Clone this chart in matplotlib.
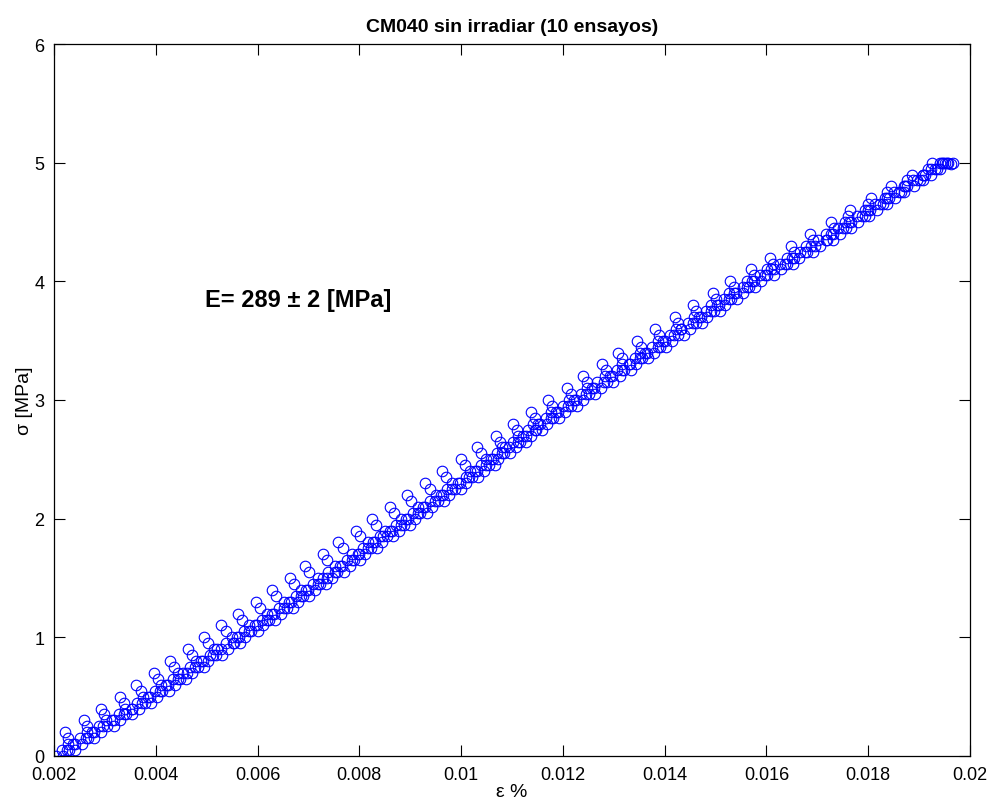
import numpy as np
import matplotlib.pyplot as plt

plt.rcParams['font.family'] = ['Liberation Sans', 'DejaVu Sans']

# stress grids [MPa] shared by the tests (each test uses the tail of one grid)
sig_a = [0.0, 0.1, 0.2, 0.3, 0.4, 0.5, 0.6, 0.7, 0.8, 0.9,
         1.0, 1.1, 1.2, 1.3, 1.4, 1.5, 1.6, 1.7, 1.8, 1.9,
         2.0, 2.1, 2.2, 2.3, 2.4, 2.5, 2.6, 2.7, 2.8, 2.9,
         3.0, 3.1, 3.2, 3.3, 3.4, 3.5, 3.6, 3.7, 3.8, 3.9,
         4.0, 4.1, 4.2, 4.3, 4.4, 4.5, 4.6, 4.7, 4.8, 4.9, 5.0]
sig_b = [0.05, 0.15, 0.25, 0.35, 0.45, 0.55, 0.65, 0.75, 0.85, 0.95,
         1.05, 1.15, 1.25, 1.35, 1.45, 1.55, 1.65, 1.75, 1.85, 1.95,
         2.05, 2.15, 2.25, 2.35, 2.45, 2.55, 2.65, 2.75, 2.85, 2.95,
         3.05, 3.15, 3.25, 3.35, 3.45, 3.55, 3.65, 3.75, 3.85, 3.95,
         4.05, 4.15, 4.25, 4.35, 4.45, 4.55, 4.65, 4.75, 4.85, 4.95]

# strain of every test, in units of 1e-5
# upper group (2 tests)
e1 = [221, 258, 292, 330, 361, 396, 428, 463, 494, 529, 561, 596, 628, 663, 694, 728, 759, 793, 824, 861,
      893, 930, 962, 999, 1032, 1069, 1101, 1138, 1171, 1208, 1240, 1277, 1309, 1346, 1381, 1420, 1455, 1494, 1529, 1570,
      1607, 1648, 1685, 1726, 1764, 1806, 1844, 1886, 1926]
e2 = [228, 265, 299, 337, 370, 405, 436, 471, 503, 538, 569, 605, 636, 671, 702, 737, 768, 802, 833, 868,
      901, 938, 970, 1007, 1040, 1076, 1109, 1146, 1179, 1215, 1248, 1284, 1317, 1354, 1388, 1427, 1462, 1501, 1536, 1576,
      1613, 1654, 1691, 1732, 1760, 1799, 1836, 1877, 1918]
# lower group (8 tests)
e3 = [238, 275, 313, 353, 385, 420, 454, 489, 521, 559, 594, 629, 662, 696, 729, 762, 798, 827, 860, 892,
      926, 960, 993, 1027, 1058, 1087, 1121, 1152, 1187, 1222, 1257, 1292, 1330, 1362, 1397, 1432, 1467, 1502, 1537, 1572,
      1608, 1650, 1688, 1727, 1763, 1800, 1836, 1872, 1907, 1942]
e4 = [215, 252, 288, 327, 363, 398, 433, 468, 506, 538, 573, 608, 642, 675, 708, 739, 775, 807, 840, 872,
      905, 939, 973, 1009, 1039, 1070, 1101, 1132, 1166, 1201, 1236, 1268, 1306, 1341, 1376, 1411, 1446, 1481, 1516, 1554,
      1587, 1626, 1665, 1701, 1741, 1778, 1814, 1851, 1888, 1924]
e5 = [204, 242, 279, 317, 354, 389, 424, 461, 493, 528, 563, 598, 633, 666, 700, 736, 766, 799, 831, 864,
      896, 930, 964, 997, 1031, 1062, 1094, 1128, 1156, 1191, 1226, 1261, 1296, 1331, 1366, 1401, 1433, 1471, 1506, 1541,
      1576, 1615, 1654, 1695, 1731, 1767, 1804, 1840, 1876, 1911, 1946]
e6 = [230, 267, 305, 342, 378, 413, 448, 483, 518, 553, 588, 623, 657, 690, 723, 757, 790, 822, 855, 887,
      920, 954, 988, 1021, 1054, 1085, 1116, 1147, 1181, 1216, 1251, 1286, 1321, 1356, 1391, 1426, 1461, 1496, 1531, 1566,
      1602, 1641, 1680, 1719, 1756, 1793, 1829, 1865, 1901, 1936]
e7 = [217, 255, 292, 330, 367, 402, 437, 471, 503, 541, 576, 611, 646, 679, 713, 746, 782, 812, 844, 877,
      909, 943, 977, 1010, 1044, 1072, 1107, 1138, 1169, 1204, 1239, 1274, 1312, 1344, 1379, 1414, 1449, 1484, 1519, 1554,
      1589, 1628, 1664, 1705, 1744, 1780, 1817, 1853, 1889, 1924, 1955]
e8 = [242, 279, 317, 354, 390, 425, 460, 495, 530, 565, 600, 635, 669, 702, 735, 769, 802, 834, 867, 899,
      932, 966, 1000, 1033, 1066, 1097, 1128, 1159, 1193, 1228, 1263, 1298, 1333, 1368, 1403, 1438, 1473, 1508, 1543, 1578,
      1614, 1653, 1692, 1731, 1766, 1802, 1836, 1871, 1907, 1942]
e9 = [190, 228, 265, 303, 340, 375, 410, 444, 479, 514, 549, 584, 619, 652, 686, 719, 752, 785, 817, 850,
      882, 916, 950, 983, 1017, 1048, 1080, 1111, 1142, 1177, 1212, 1247, 1282, 1317, 1352, 1387, 1422, 1457, 1492, 1527,
      1562, 1601, 1640, 1678, 1717, 1755, 1794, 1832, 1870, 1907, 1944]
e10 = [225, 262, 297, 337, 373, 408, 443, 478, 513, 551, 583, 618, 652, 685, 718, 752, 785, 817, 847, 882,
       915, 949, 983, 1016, 1049, 1080, 1111, 1145, 1176, 1211, 1246, 1281, 1316, 1351, 1386, 1418, 1456, 1491, 1526, 1561,
       1597, 1636, 1675, 1717, 1751, 1788, 1824, 1860, 1896, 1931]

# points held at the maximum load
e_top = [1950, 1957, 1963, 1967]
sig_top = [5.0, 5.0, 4.99, 5.0]

ensayos = [(e1, sig_a), (e2, sig_b), (e3, sig_a), (e4, sig_b), (e5, sig_a),
           (e6, sig_b), (e7, sig_a), (e8, sig_b), (e9, sig_a), (e10, sig_b)]

xticks = [0.002, 0.004, 0.006, 0.008, 0.01, 0.012, 0.014, 0.016, 0.018, 0.02]
xlabels = ['0.002', '0.004', '0.006', '0.008', '0.01', '0.012', '0.014', '0.016', '0.018', '0.02']
yticks = [0, 1, 2, 3, 4, 5, 6]

fig = plt.figure(figsize=(9.88, 8.04), dpi=100)
ax = fig.add_axes([54/988, 47/804, 916/988, 712/804])

for eps, sig in ensayos:
    eps = np.array(eps) * 1e-5
    s = np.array(sig)[len(sig) - len(eps):]
    ax.plot(eps, s, 'o', mfc='none', mec='b', ms=7.6, mew=0.8)
ax.plot(np.array(e_top) * 1e-5, sig_top, 'o', mfc='none', mec='b', ms=7.6, mew=0.8)

ax.set_xlim(0.002, 0.02)
ax.set_ylim(0, 6)
ax.set_xticks(xticks)
ax.set_xticklabels(xlabels)
ax.set_yticks(yticks)
ax.tick_params(direction='in', top=True, right=True, length=8, width=0.8, labelsize=13)
ax.tick_params(axis='x', pad=7)
ax.tick_params(axis='y', pad=7)
for sp in ax.spines.values():
    sp.set_linewidth(0.9)

ax.set_title('CM040 sin irradiar (10 ensayos)', fontsize=14, fontweight='bold', pad=9)
ax.set_xlabel('ε %', fontsize=14, labelpad=0)
ax.set_ylabel('σ [MPa]', fontsize=14, labelpad=1)
ax.text(0.00497, 3.85, 'E= 289 ± 2 [MPa]', fontsize=17, fontweight='bold', va='center')

fig.savefig('out.png', dpi=100)
